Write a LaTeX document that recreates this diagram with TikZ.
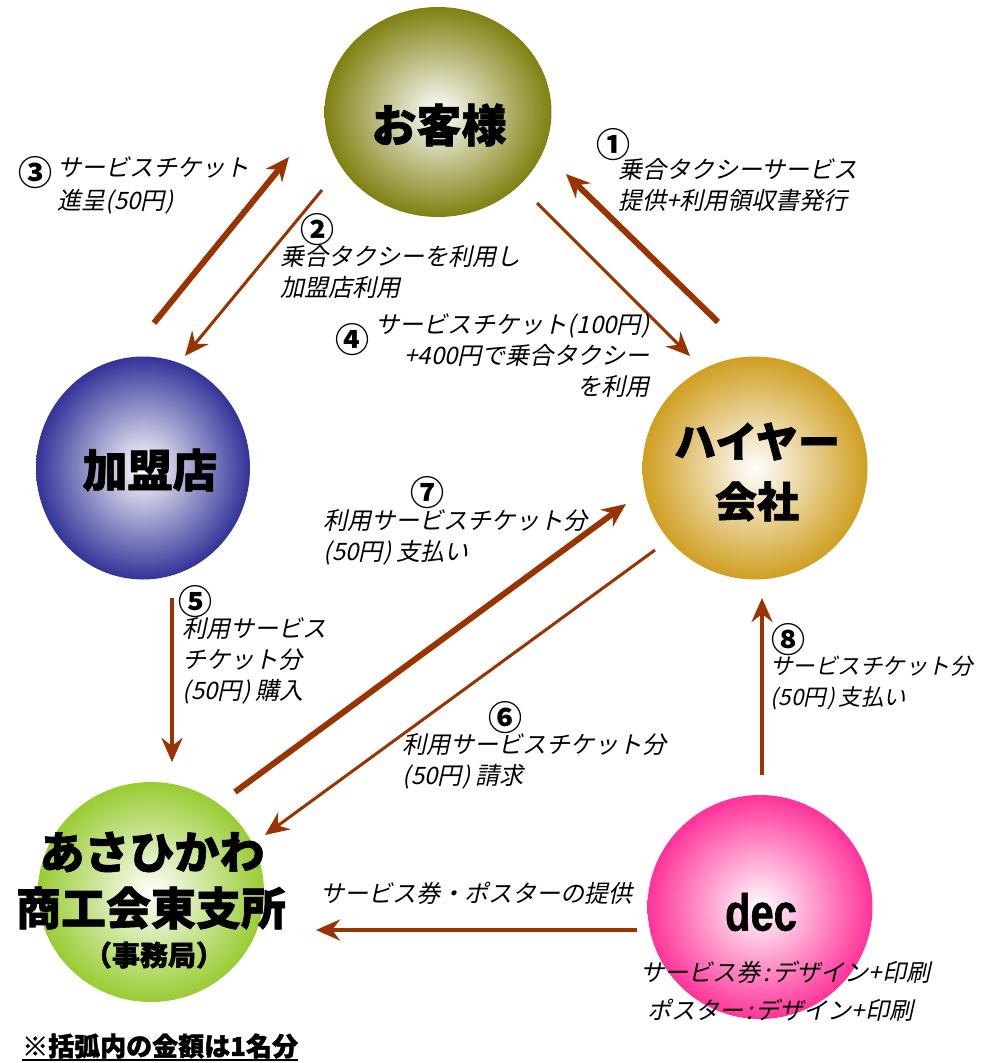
\documentclass[tikz,border=0pt]{standalone}
\usepackage{fontspec}
\usetikzlibrary{shapes.geometric,arrows.meta}
\newfontfamily\jp{Noto Sans CJK JP}[BoldFeatures={FakeBold=1.4}]
\newfontfamily\jpn{Noto Sans CJK JP}
\newfontfamily\jpit{Noto Sans CJK JP}[FakeSlant=0.22]
\newfontfamily\decfont{Liberation Sans}[FakeStretch=0.8,BoldFeatures={FakeBold=1.2}]
\newcommand{\lpar}{(\kern1pt}
\newcommand{\rpar}{\kern1pt)\kern4pt}
\newcommand{\colsp}{\kern3pt:\kern3pt}
\definecolor{arrowc}{HTML}{993300}
\definecolor{olivec}{HTML}{808012}
\definecolor{bluec}{HTML}{333399}
\definecolor{goldc}{HTML}{D09F22}
\definecolor{greenc}{HTML}{99CC33}
\definecolor{pinkc}{HTML}{FF3399}
\tikzset{
  ball/.style={ellipse, inner sep=0pt, shading=radial, inner color=white, outer color=#1},
  big/.style={font=\jp\bfseries\fontsize{45}{56}\selectfont, align=center, inner sep=0pt},
  lbl/.style={font=\jpit\fontsize{24}{31}\selectfont, inner sep=0pt},
  num/.style={font=\jpn\bfseries\fontsize{34}{34}\selectfont, inner sep=0pt},
  arr/.style={draw=arrowc, -{Stealth[length=24pt,width=21pt,inset=8pt]}},
  thickarr/.style={arr, line width=6pt},
  midarr/.style={arr, line width=4.5pt},
  thinarr/.style={arr, line width=3pt}
}
\begin{document}
\begin{tikzpicture}[x=1pt,y=-1pt]
\useasboundingbox (0,0) rectangle (981,1063);
% circles
\node[ball=olivec, minimum width=227pt, minimum height=210pt] (kyaku) at (438,112) {};
\node[ball=bluec, minimum width=214pt, minimum height=223pt] (kamei) at (143,468) {};
\node[ball=goldc, minimum width=225pt, minimum height=223pt] (hire) at (755,468) {};
\node[ball=greenc, minimum width=226pt, minimum height=220pt] (asahi) at (151,892) {};
\node[ball=pinkc, minimum width=225pt, minimum height=224pt] (dec) at (760,907) {};
% node texts
\node[big] (kyakuT) at (439,125) {お客様};
\node[big] (kameiT) at (150,470) {加盟店};
\node[big, font=\jp\bfseries\fontsize{42}{60}\selectfont] (hireT) at (757,472) {ハイヤー\\会社};
\node[big] (asahiT1) at (152,852) {あさひかわ};
\node[big] (asahiT2) at (151,908) {商工会東支所};
\node[big, font=\jp\bfseries\fontsize{28}{30}\selectfont] (asahiT3) at (154,955) {（事務局）};
\node[inner sep=0pt, font=\decfont\bfseries\fontsize{52}{52}\selectfont] (decT) at (761,912) {dec};
% arrow end points
\coordinate (a1s) at (718,322); \coordinate (a1e) at (566,174);
\coordinate (a2s) at (322,190); \coordinate (a2e) at (185,356);
\coordinate (a3s) at (154,323); \coordinate (a3e) at (289,157);
\coordinate (a4s) at (537,203); \coordinate (a4e) at (690,356);
\coordinate (a5s) at (172,598); \coordinate (a5e) at (172,762);
\coordinate (a6s) at (655,550); \coordinate (a6e) at (265,835);
\coordinate (a7s) at (235,792); \coordinate (a7e) at (626,504);
\coordinate (a8s) at (762,775); \coordinate (a8e) at (762,598);
\coordinate (a9s) at (637,930); \coordinate (a9e) at (316,930);
\draw[thickarr] (a1s) -- (a1e);
\draw[thinarr] (a2s) -- (a2e);
\draw[thickarr] (a3s) -- (a3e);
\draw[thinarr] (a4s) -- (a4e);
\draw[midarr] (a5s) -- (a5e);
\draw[thinarr] (a6s) -- (a6e);
\draw[thickarr] (a7s) -- (a7e);
\draw[midarr] (a8s) -- (a8e);
\draw[midarr] (a9s) -- (a9e);
% labels
\node[num] (n1) at (613,145) {①};
\node[lbl, anchor=west, align=left] (l1) at (618,185) {乗合タクシーサービス\\提供+利用領収書発行};
\node[num] (n2) at (317,230) {②};
\node[lbl, anchor=west, align=left] (l2) at (280,272) {乗合タクシーを利用し\\加盟店利用};
\node[num] (n3) at (36,173) {③};
\node[lbl, anchor=west, align=left, font=\jpit\fontsize{24}{33}\selectfont] (l3) at (57,185) {サービスチケット\\進呈\lpar 50円\rpar};
\node[num] (n4) at (352,340) {④};
\node[lbl, anchor=east, align=right] (l4) at (650,356) {サービスチケット\lpar 100円\kern1pt)\\+400円で乗合タクシー\\を利用};
\node[num] (n5) at (195,602) {⑤};
\node[lbl, anchor=west, align=left] (l5) at (182,661) {利用サービス\\チケット分\\\lpar 50円\rpar 購入};
\node[num] (n6) at (505,718) {⑥};
\node[lbl, anchor=west, align=left] (l6) at (402,761) {利用サービスチケット分\\\lpar 50円\rpar 請求};
\node[num] (n7) at (427,493) {⑦};
\node[lbl, anchor=west, align=left] (l7) at (323,537) {利用サービスチケット分\\\lpar 50円\rpar 支払い};
\node[num] (n8) at (788,640) {⑧};
\node[lbl, anchor=west, align=left, font=\jpit\fontsize{22.5}{31}\selectfont] (l8) at (770,683) {サービスチケット分\\\lpar 50円\rpar 支払い};
\node[lbl] (l9) at (476,893) {サービス券・ポスターの提供};
\node[lbl] (l10) at (785,972) {サービス券\colsp デザイン+印刷};
\node[lbl] (l11) at (780,1010) {ポスター\colsp デザイン+印刷};
% footnote
\node[inner sep=0pt, anchor=west, font=\jp\bfseries\fontsize{26}{26}\selectfont] (foot) at (22,1046) {※括弧内の金額は1名分};
\draw[line width=2pt] ([yshift=-1pt]foot.south west) -- ([yshift=-1pt]foot.south east);
\end{tikzpicture}
\end{document}
